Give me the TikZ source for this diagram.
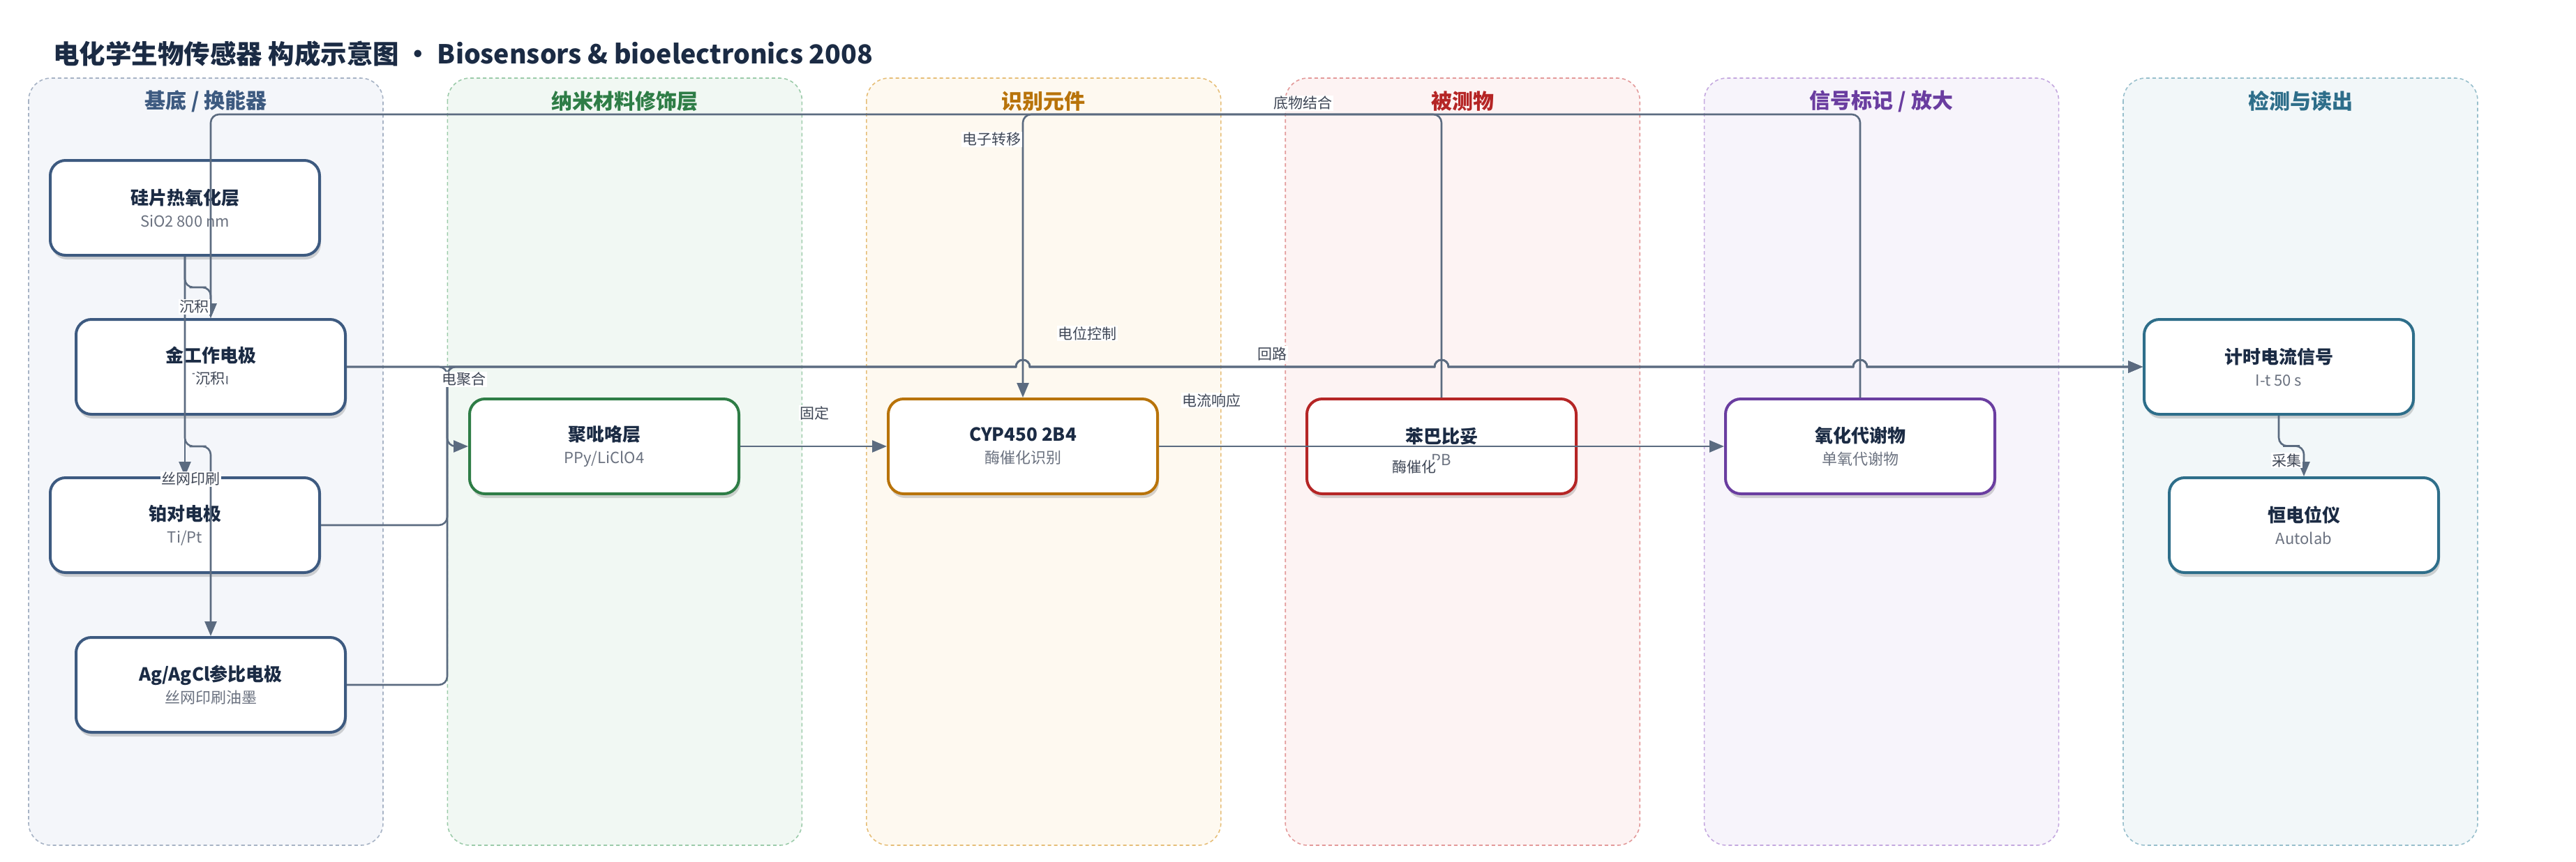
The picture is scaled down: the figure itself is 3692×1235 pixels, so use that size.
\documentclass[tikz,border=0pt]{standalone}
\usepackage{fontspec}
\setmainfont{Noto Sans CJK SC}
\usetikzlibrary{arrows.meta,calc,shadows}

\definecolor{ink}{HTML}{1B2B44}
\definecolor{subc}{HTML}{6B7280}
\definecolor{lblc}{HTML}{3F4756}
\definecolor{edgec}{HTML}{5B6B80}
\definecolor{cA}{HTML}{3D5A80}\definecolor{bA}{HTML}{F4F6FA}\definecolor{dA}{HTML}{A7B3C5}
\definecolor{cB}{HTML}{2E7D46}\definecolor{bB}{HTML}{F1F8F3}\definecolor{dB}{HTML}{9CCBAA}
\definecolor{cC}{HTML}{B8730A}\definecolor{bC}{HTML}{FEF9F0}\definecolor{dC}{HTML}{E6BE78}
\definecolor{cD}{HTML}{B52525}\definecolor{bD}{HTML}{FDF3F3}\definecolor{dD}{HTML}{E39A9A}
\definecolor{cE}{HTML}{6A3DA0}\definecolor{bE}{HTML}{F7F4FB}\definecolor{dE}{HTML}{C4A8DF}
\definecolor{cF}{HTML}{2E6E8A}\definecolor{bF}{HTML}{F2F7F9}\definecolor{dF}{HTML}{98BFCC}

\newcommand{\bx}[2]{{\fontsize{26}{32}\selectfont\bfseries\color{ink}#1}\\#2}

\tikzset{
  lane/.style={draw=d#1, fill=b#1, line width=1.6pt, dash pattern=on 5pt off 4pt, rounded corners=32pt},
  lanetitle/.style={font=\fontsize{30}{30}\selectfont\bfseries, text=c#1},
  box/.style={draw=c#1, line width=4pt, fill=white, rounded corners=22pt,
    minimum width=386pt, minimum height=136pt, align=center, text=subc,
    font=\fontsize{22}{32}\selectfont,
    drop shadow={shadow xshift=2pt, shadow yshift=-6pt, opacity=.16, fill=black}},
  edge/.style={draw=edgec, line width=2.6pt, rounded corners=12pt, -{Triangle[length=21pt,width=17pt]}},
  lbl/.style={fill=white, inner sep=1.5pt, text=lblc, font=\fontsize{21}{21}\selectfont},
  hop/.style={insert path={-- ($(#1.north|-bus)+(-10,0)$) arc[start angle=180,end angle=360,radius=10]}}
}

\begin{document}
\begin{tikzpicture}[x=1pt,y=-1pt]
\useasboundingbox (0,0) rectangle (3692,1235);

\node[anchor=west, inner sep=0, font=\fontsize{37.5}{40}\selectfont\bfseries, text=ink] (title)
  at (76,77) {电化学生物传感器 构成示意图 · Biosensors \& bioelectronics 2008};

% lanes
\foreach \k/\t [count=\i from 0] in {A/{基底 / 换能器},B/纳米材料修饰层,C/识别元件,D/被测物,E/{信号标记 / 放大},F/检测与读出}{
  \draw[lane=\k] (41+600.4*\i,112) rectangle ++(508,1100);
  \node[lanetitle=\k] (lt\i) at (295+600.4*\i,145) {\t};
}

\node[box=A] (sio2) at (265,298) {\bx{硅片热氧化层}{SiO2 800 nm}};
\node[box=A] (au) at (302,526) {\bx{金工作电极}{Ti/Au}};
\node[box=A] (pt) at (265,753) {\bx{铂对电极}{Ti/Pt}};
\node[box=A] (agcl) at (302,982) {\bx{Ag/AgCl参比电极}{丝网印刷油墨}};
\node[box=B] (ppy) at (866,640) {\bx{聚吡咯层}{PPy/LiClO4}};
\node[box=C] (cyp) at (1466,640) {\bx{CYP450 2B4}{酶催化识别}};
\node[box=D] (pb) at (2066,640) {\bx{苯巴比妥}{PB}};
\node[box=E] (met) at (2666,640) {\bx{氧化代谢物}{单氧代谢物}};
\node[box=F] (sig) at (3266,526) {\bx{计时电流信号}{I-t 50 s}};
\node[box=F] (pot) at (3302,753) {\bx{恒电位仪}{Autolab}};

\coordinate (bus) at (641,526);
\coordinate (rail) at (0,164);

% connectors
\draw[edge] (sio2.south) |- ($(sio2.south)!.5!(au.north)$) -| (au.north);
\draw[edge] (sio2.south) -- (pt.north);
\draw[edge] (sio2.south) |- ($(sio2.south)!.5!(agcl.north)$) -| (agcl.north);
\draw[edge] (au.east) -- (bus) |- (ppy.west);
\draw[edge, sharp corners] (au.east) [hop=cyp, hop=pb, hop=met] -- (sig.west);
\draw[edge] (pt.east) -| (bus) -- ++(14,0) [sharp corners, hop=cyp, hop=pb, hop=met] -- (sig.west);
\draw[edge] (agcl.east) -| (bus) -- ++(14,0) [sharp corners, hop=cyp, hop=pb, hop=met] -- (sig.west);
\draw[edge] (ppy) -- (cyp);
\draw[edge] (cyp) -- (met);
\draw[edge] (pb.north) -- (pb.north|-rail) -| (cyp.north);
\draw[edge] (met.north) -- (met.north|-rail) -| (au.north);
\draw[edge] (sig.south) |- ($(sig.south)!.5!(pot.north)$) -| (pot.north);

\node[lbl] (l1) at (278,440) {沉积};
\node[lbl] (l2) at (301,543) {沉积};
\node[lbl] (l3) at (273,687) {丝网印刷};
\node[lbl] (l4) at (665,544) {电聚合};
\node[lbl] (l5) at (1167,592) {固定};
\node[lbl] (l6) at (1421,200) {电子转移};
\node[lbl] (l7) at (1867,148) {底物结合};
\node[lbl] (l8) at (1558,478) {电位控制};
\node[lbl] (l9) at (1823,507) {回路};
\node[lbl] (l10) at (1736,574) {电流响应};
\node[lbl] (l11) at (2027,670) {酶催化};
\node[lbl] (l12) at (3277,660) {采集};
\end{tikzpicture}
\end{document}
